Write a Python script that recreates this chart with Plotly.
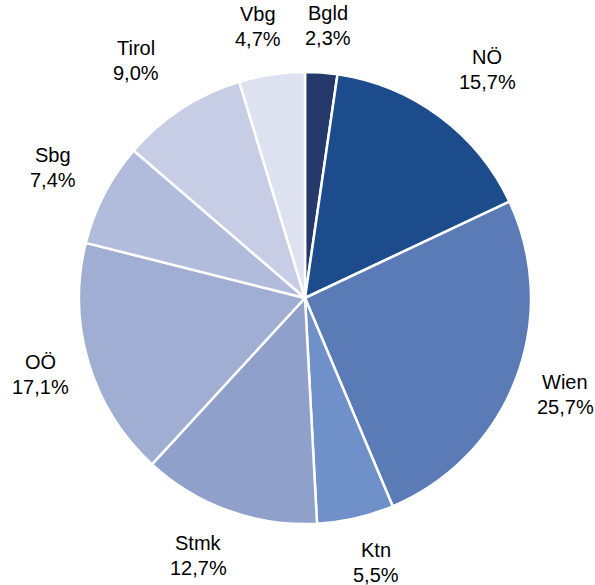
import math
import plotly.graph_objects as go

labels = ["Bgld", "NÖ", "Wien", "Ktn", "Stmk", "OÖ", "Sbg", "Tirol", "Vbg"]
values = [2.3, 15.7, 25.7, 5.5, 12.7, 17.1, 7.4, 9.0, 4.7]
colors = ["#253A6A", "#1C4C8B", "#5B7BB7", "#7090C9", "#8FA0CB",
          "#A0AED3", "#B1BCDD", "#C6CDE5", "#DDE1F0"]

W, H = 595, 585
cx, cy, R = 305, 298, 226

fig = go.Figure(go.Pie(
    labels=labels, values=values, sort=False, direction="clockwise",
    rotation=0, textinfo="none", hoverinfo="label+value",
    marker=dict(colors=colors, line=dict(color="white", width=2.5)),
    domain=dict(x=[(cx - R) / W, (cx + R) / W],
                y=[(H - cy - R) / H, (H - cy + R) / H]),
    showlegend=False,
))

font = dict(family="Liberation Sans, Arial, sans-serif", size=20, color="black")
total = sum(values)
cum = 0.0
annotations = []
for lab, v in zip(labels, values):
    mid = (cum + v / 2) / total * 2 * math.pi
    cum += v
    k = 1.2 + 0.05 * abs(math.sin(2 * mid)) ** 2
    # labels on diagonals are pushed slightly further out horizontally
    push = 24 * abs(math.sin(2 * mid)) * math.cos(mid) ** 2
    px = cx + k * R * math.sin(mid) + math.copysign(push, math.sin(mid))
    py = cy - k * R * math.cos(mid) - 2
    for txt, dy in ((lab, -12.5), (f"{str(v).replace('.', ',')}%", 12.5)):
        annotations.append(dict(
            x=px / W, y=1 - (py + dy) / H, xref="paper", yref="paper",
            text=txt, showarrow=False, xanchor="center", yanchor="middle",
            font=font,
        ))

fig.update_layout(
    width=W, height=H, margin=dict(l=0, r=0, t=0, b=0),
    paper_bgcolor="white", plot_bgcolor="white",
    annotations=annotations,
)
fig.write_html("out.html", config={"displayModeBar": False},
               post_script="document.body.style.margin='0';document.body.style.overflow='hidden';")
